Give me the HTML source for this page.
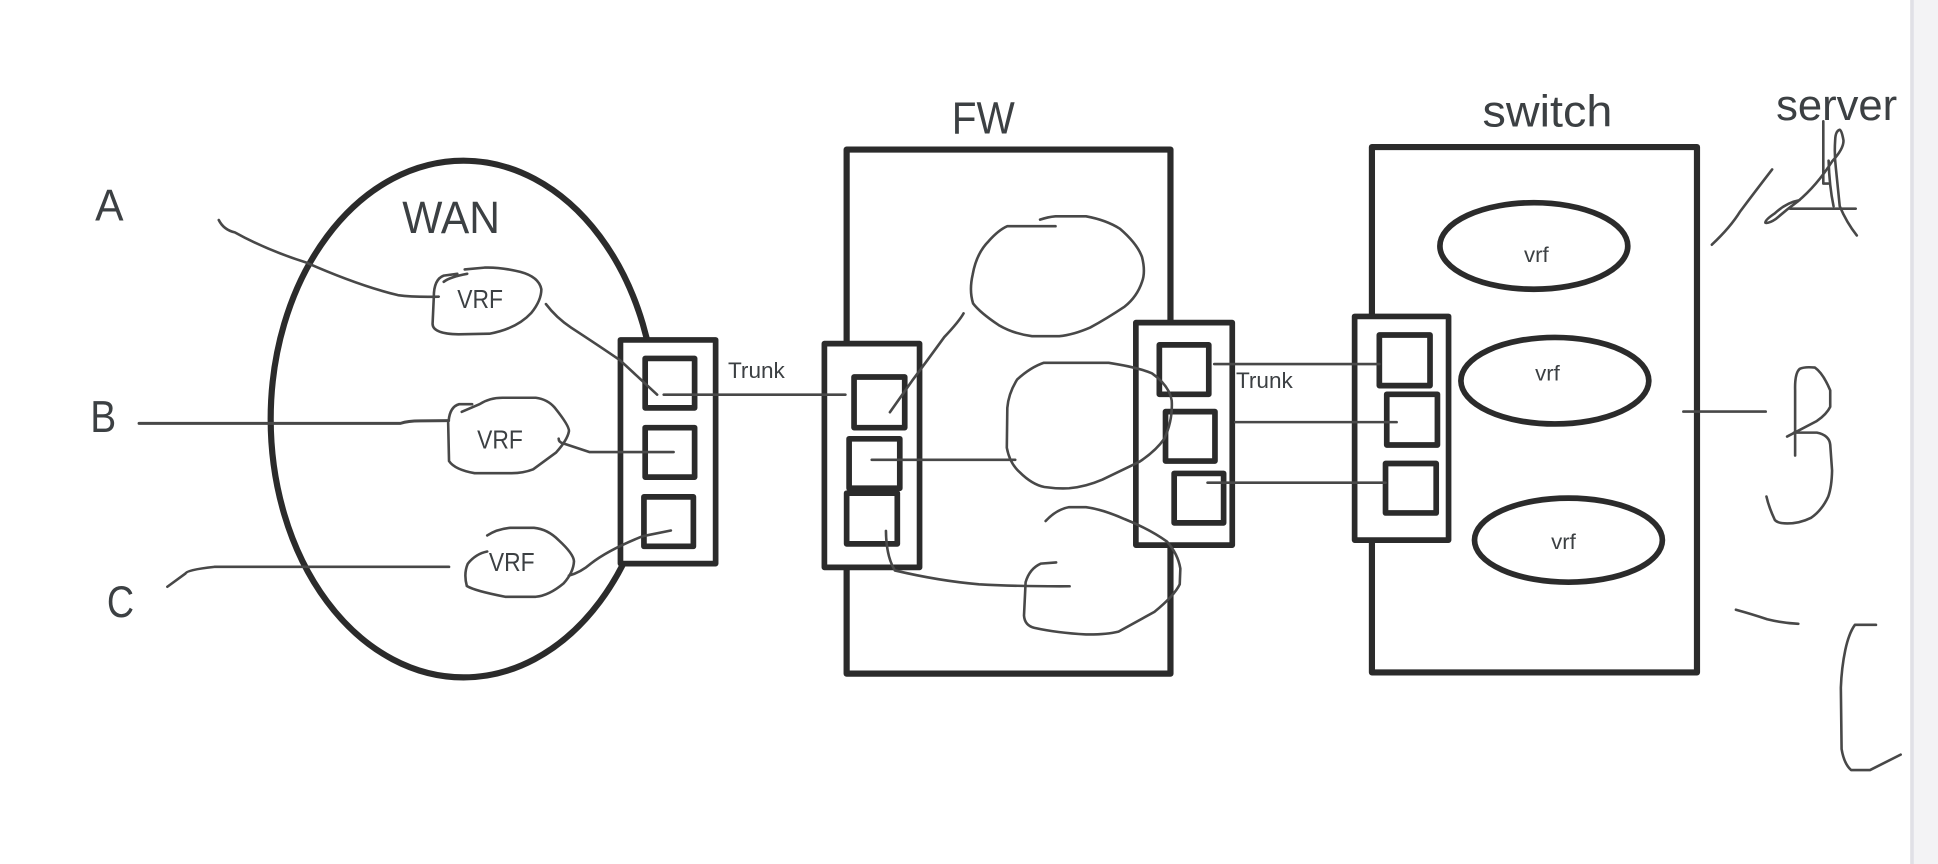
<!DOCTYPE html>
<html lang="en">
<head>
<meta charset="utf-8">
<title>WAN FW switch server diagram</title>
<style>
html,body{margin:0;padding:0;background:#fff;width:1938px;height:864px;overflow:hidden}
svg{display:block}
text{font-family:"Liberation Sans",Arial,sans-serif;fill:#3c4043}
.t{fill:none;stroke:#2b2b2b;stroke-width:5;stroke-linejoin:round}
.b{fill:#fff;stroke:#2b2b2b;stroke-width:4.6;stroke-linejoin:round}
.s{fill:none;stroke:#2b2b2b;stroke-width:4.6;stroke-linejoin:round}
.h{fill:none;stroke:#484848;stroke-width:2.1;stroke-linecap:round;stroke-linejoin:round}
</style>
</head>
<body>
<svg width="1938" height="864" viewBox="0 0 1568 699" preserveAspectRatio="none" xmlns="http://www.w3.org/2000/svg">
<rect width="1568" height="699" fill="#fff"/>
<rect x="1545.5" y="0" width="3" height="699" fill="#e0e0e6"/>
<rect x="1548.5" y="0" width="19.5" height="699" fill="#f3f3f5"/>

<!-- WAN -->
<ellipse class="t" cx="375" cy="339" rx="156" ry="209"/>
<rect class="b" x="502" y="275" width="77" height="181"/>
<rect class="s" x="522" y="290" width="40" height="40"/>
<rect class="s" x="522" y="346" width="40" height="40"/>
<rect class="s" x="521" y="402" width="40" height="40"/>

<!-- FW -->
<rect class="t" x="685" y="121" width="262" height="424" fill="#fff"/>
<rect class="b" x="667" y="278" width="77" height="181"/>
<rect class="s" x="691" y="305" width="41" height="41"/>
<rect class="s" x="687" y="355" width="41" height="40"/>
<rect class="s" x="685" y="399" width="41" height="41"/>
<rect class="b" x="919" y="261" width="78" height="180"/>
<rect class="s" x="938" y="279" width="40" height="40"/>
<rect class="s" x="943" y="333" width="40" height="40"/>
<rect class="s" x="950" y="383" width="40" height="40"/>

<!-- Switch -->
<rect class="t" x="1110" y="119" width="263" height="425" fill="#fff"/>
<rect class="b" x="1096" y="256" width="76" height="181"/>
<rect class="s" x="1116" y="271" width="41" height="41"/>
<rect class="s" x="1122" y="319" width="41" height="41"/>
<rect class="s" x="1121" y="375" width="41" height="40"/>
<ellipse class="s" cx="1241" cy="199" rx="76" ry="35"/>
<ellipse class="s" cx="1258" cy="308" rx="76" ry="35"/>
<ellipse class="s" cx="1269" cy="437" rx="76" ry="34"/>

<!-- Left hand-drawn -->
<path class="h" d="M177 178 Q181 186 190 188 Q215 202 248 212.5 Q290 231 322 238.8 Q335 240.5 355 240"/>
<path class="h" d="M370 221.5 L359 223 Q351 226 351 240 L350 262 Q350 270 371 270.5 L396 270 Q418 266 430 253 Q438 243 438 234 Q436 224 421 220 Q405 216 392 216.5 L376 218 M359 228 Q364 224 378 221.5"/>
<path class="h" d="M441.7 246 Q450 257 462 265 Q485 280 501.6 291.4 L531.7 319.3"/>
<path class="h" d="M537 319.3 L684 319.3"/>
<path class="h" style="stroke-width:2.4" d="M112.500 342.500 L324 342.500 Q330 340.500 340 340.500 L363 340.300"/>
<path class="h" d="M363 340.500 Q364 329 371.500 327 L382 327 M373.600 333.200 L388 327 Q396 321.800 406.600 321.800 L433.500 321.800 Q443 323 449 330 Q461 345 460.300 349 Q459 356 450 366 L431.400 379.700 Q423 383 412.800 382.800 L384 382.800 Q368 380 363.300 373 L362.600 342"/>
<path class="h" d="M452 354.900 Q452 358 456 358.800 L476.800 365.700 L545 365.700"/>
<path class="h" d="M135.400 474.700 L150 464 Q151 461 173.400 458.600 L363.300 458.600"/>
<path class="h" d="M394.200 433.200 Q402 428 412.800 427 L432 427 Q443 428 452 437 Q464 448 464.400 454 Q464 463 456 472 Q444 482 433.500 482.800 L408.700 482.800 Q384 478 377.700 474.100 Q375 464 378.500 456 Q385 448 394.200 446.200"/>
<path class="h" d="M460.300 465.700 Q470 463 478 456 Q492 445 520 433.800 L542.800 429.200"/>

<!-- FW hand-drawn -->
<path class="h" d="M841.500 177.700 Q848 175.500 854 175 L878.700 175 Q895 178 906 185 Q920 197 924 208 Q927 220 924 228 Q920 240 910 248 Q895 258 882 265 Q868 271 857 272 L835 272 Q820 270 808 263 Q793 253 787.300 245.500 Q784 235 787 222 Q790 205 800 195 Q808 186 815 183 L854 183"/>
<path class="h" d="M720 333.500 L738 308 Q750 292 764 272.700 Q776 260 779.600 253.500"/>
<path class="h" d="M868.800 293.500 L844.600 293.500 Q834 297 823 307 Q816 318 815 330 L814.600 362.300 Q817 375 825 382 Q835 392 845 394 Q855 395.500 865 395 Q878 394 892 388 L922 373.500 Q935 365 942 355 Q949 340 948 324 Q946 312 932 302 Q920 297 897 293.500 L844.600 293.500"/>
<path class="h" d="M705.300 372 L821.400 372"/>
<path class="h" d="M846 421.500 Q855 412 865 410.300 L878.700 410.300 Q892 412 910 420 Q930 428 944 438 Q953 448 955 460 L954.500 472.700 Q950 482 934 495 L905 511 Q895 513.500 878.700 513.300 Q855 512 837 508 Q829 506 828.500 498 L829.800 471 Q833 460 842 456 L854.500 455"/>
<path class="h" d="M716.800 429.500 Q717 450 724 461.500 Q760 470 792 472.700 Q825 474.500 865.400 474.300"/>

<!-- Trunk lines -->
<path class="h" d="M982.400 294.500 L1116 294.500"/>
<path class="h" d="M999.400 341.500 L1130 341.500"/>
<path class="h" d="M977 390.500 L1121 390.500"/>

<!-- Right hand-drawn -->
<path class="h" d="M1385 198 Q1400 184 1408 171 Q1420 155 1433.800 137.100"/>
<path class="h" d="M1475.200 98.100 L1475.200 148.500 L1479.200 148.500"/>
<path class="h" d="M1456 161.900 Q1445 164 1436 172.600 Q1428 178 1428.300 180.200 Q1431 181 1437 177 Q1445 170 1454.500 163 Q1470 150 1482.300 130.600 Q1492 120 1491.500 113.400 Q1490 105 1488.500 105 Q1485 106 1484.800 113.400 Q1484 125 1485.400 136.300 L1488.500 166.900 Q1494 180 1502.300 190.500"/>
<path class="h" d="M1479.500 130 Q1480 150 1483.500 166.900"/>
<path class="h" d="M1448.300 168.800 L1501.400 168.800"/>
<path class="h" d="M1362 333 L1428.600 333"/>
<path class="h" d="M1452.400 368.500 L1452.400 315.800 Q1452 302 1456 298.500 Q1460 296.500 1468.400 297.400 Q1475 302 1480.800 315.800 L1480.800 329.100 Q1478 335 1470 340.600 L1445.900 353.200"/>
<path class="h" d="M1451.400 350 L1470 350 Q1480 352 1480.800 359.700 L1482.300 380.700 Q1482 394 1479.200 401.700 Q1474 413 1465.300 418.900 Q1455 424 1443.700 423.400 Q1438 423 1436 420.700 Q1431 410 1429.200 401.700"/>
<path class="h" d="M1404.500 493.300 Q1418 497 1429.800 501 Q1442 504 1455 504.700"/>
<path class="h" d="M1517.800 505.500 L1500.800 505.500 Q1496 512 1493 525.800 Q1490 540 1489.400 556.300 L1490 606 Q1492 618 1497.700 623 L1513 623 Q1525 617 1537.800 610.500"/>

<!-- Labels -->
<text x="77" y="178.400" font-size="36" textLength="23" lengthAdjust="spacingAndGlyphs">A</text>
<text x="73" y="349.600" font-size="36" textLength="21" lengthAdjust="spacingAndGlyphs">B</text>
<text x="86.500" y="499" font-size="36" textLength="22" lengthAdjust="spacingAndGlyphs">C</text>
<text x="325.500" y="188.400" font-size="37" textLength="79" lengthAdjust="spacingAndGlyphs">WAN</text>
<text x="370" y="249" font-size="21" textLength="37" lengthAdjust="spacingAndGlyphs">VRF</text>
<text x="386" y="363" font-size="21" textLength="37" lengthAdjust="spacingAndGlyphs">VRF</text>
<text x="395.500" y="462" font-size="21" textLength="37" lengthAdjust="spacingAndGlyphs">VRF</text>
<text x="589" y="306" font-size="18" textLength="46" lengthAdjust="spacingAndGlyphs">Trunk</text>
<text x="1000" y="314" font-size="18" textLength="46" lengthAdjust="spacingAndGlyphs">Trunk</text>
<text x="770" y="108" font-size="37" textLength="51" lengthAdjust="spacingAndGlyphs">FW</text>
<text x="1199.500" y="102.500" font-size="36" textLength="105" lengthAdjust="spacingAndGlyphs">switch</text>
<text x="1437" y="97" font-size="35" textLength="98" lengthAdjust="spacingAndGlyphs">server</text>
<text x="1233" y="212" font-size="17" textLength="20" lengthAdjust="spacingAndGlyphs">vrf</text>
<text x="1242" y="308" font-size="17" textLength="20" lengthAdjust="spacingAndGlyphs">vrf</text>
<text x="1255" y="444" font-size="17" textLength="20" lengthAdjust="spacingAndGlyphs">vrf</text>
</svg>
</body>
</html>
